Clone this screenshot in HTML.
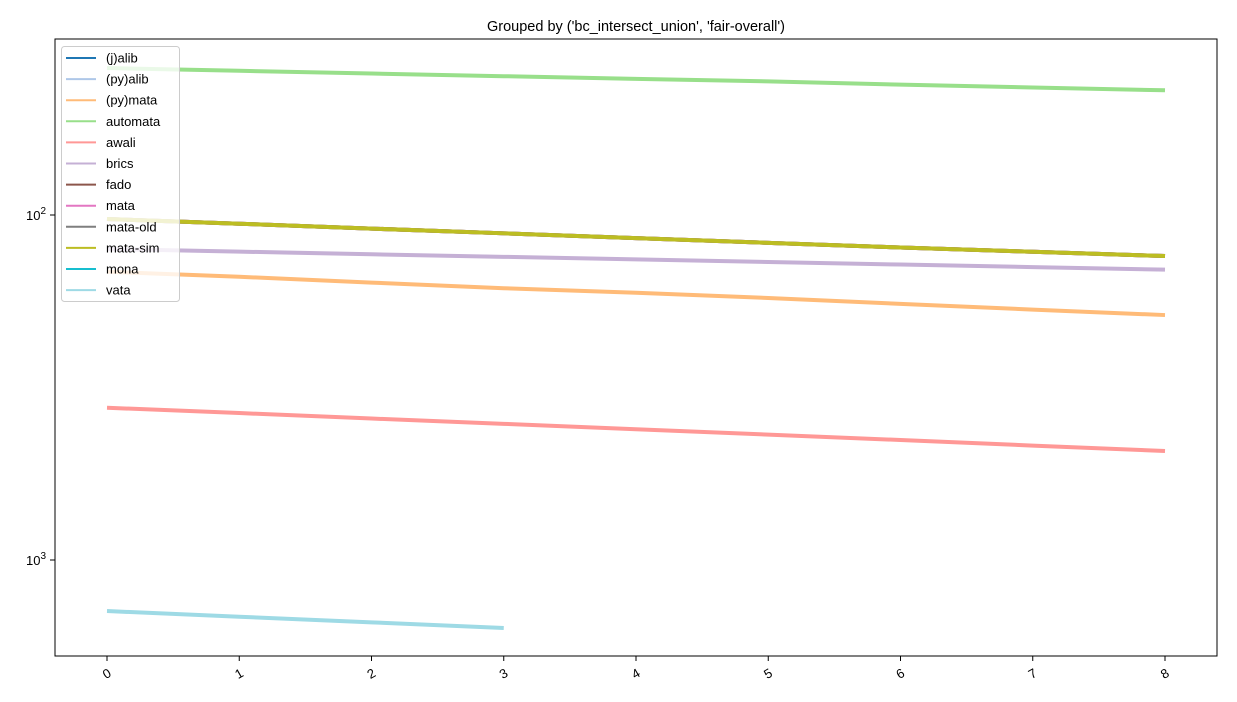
<!DOCTYPE html>
<html><head><meta charset="utf-8"><style>body{margin:0;background:#fff}svg{display:block;font-family:"Liberation Sans","DejaVu Sans",sans-serif}</style></head>
<body>
<svg id="chart" width="1237" height="702" viewBox="0 0 1237 702">
<rect width="1237" height="702" fill="#fff"/>
<text x="636" y="31" text-anchor="middle" font-size="14.5">Grouped by ('bc_intersect_union', 'fair-overall')</text>
<g id="plot"></g>
</svg>
<script>
const xTicks = [0,1,2,3,4,5,6,7,8];
const seriesNames = ["(j)alib","(py)alib","(py)mata","automata","awali","brics","fado","mata","mata-old","mata-sim","mona","vata"];
const seriesColors = ["#1f77b4","#aec7e8","#ffbb78","#98df8a","#ff9896","#c5b0d5","#8c564b","#e377c2","#7f7f7f","#bcbd22","#17becf","#9edae5"];
const automata = [37.5,38.2,38.9,39.6,40.3,41.0,41.9,42.7,43.5];
const pymata = [146,151,157,163,168,174,181,188,195];
const awali = [362,375,389,403,418,433,449,466,483];
const brics = [125.5,127.7,130,132.2,134.5,136.8,139.2,141.6,144];
const fado = [102.7,106,109.5,113,116.7,120.4,124.2,127.8,131.5];
const mata = [102.7,106,109.5,113,116.7,120.4,124.2,127.8,131.5];
const mataOld = [102.7,106,109.5,113,116.7,120.4,124.2,127.8,131.5];
const mataSim = [102.7,106,109.5,113,116.7,120.4,124.2,127.8,131.5];
const vata = [1406,1460,1516,1574];
const seriesData = {"(j)alib":[],"(py)alib":[],"(py)mata":pymata,"automata":automata,"awali":awali,"brics":brics,"fado":fado,"mata":mata,"mata-old":mataOld,"mata-sim":mataSim,"mona":[],"vata":vata};
const yTickVals = [100,1000];
const yTickExp = ["2","3"];

const NS="http://www.w3.org/2000/svg";
const L=55,R=1217,T=39,B=656;
const xs=v=>107+v*(1165-107)/8;
const ys=v=>215+(Math.log10(v)-2)*345;
const g=document.getElementById('plot');
function mk(t,a,p){const e=document.createElementNS(NS,t);for(const k in a)e.setAttribute(k,a[k]);(p||g).appendChild(e);return e;}
seriesNames.forEach((n,i)=>{
  const d=seriesData[n]; if(!d.length) return;
  const pts=d.map((v,j)=>xs(j)+","+ys(v)).join(" ");
  const e=mk('polyline',{points:pts,fill:"none",stroke:seriesColors[i],"stroke-width":4});
  
  
});
const f=mk('rect',{x:L,y:T,width:R-L,height:B-T,fill:"none",stroke:"#000","stroke-width":1});


xTicks.forEach(v=>{
  const x=xs(v);
  mk('line',{x1:x,y1:B,x2:x,y2:B+5,stroke:"#000"});
  const t=mk('text',{x:x,y:B+22,"text-anchor":"middle","font-size":13,transform:`rotate(-30 ${x} ${B+18})`});
  t.textContent=v;
  
  
});
yTickVals.forEach((v,i)=>{
  const y=ys(v);
  mk('line',{x1:L-5,y1:y,x2:L,y2:y,stroke:"#000"});
  const t=mk('text',{x:L-9,y:y+5,"text-anchor":"end","font-size":13});
  t.innerHTML='10<tspan dy="-6" font-size="10">'+yTickExp[i]+'</tspan>';
  
  
});
const lg=mk('g',{});


mk('rect',{x:61.5,y:46.5,width:118,height:255,rx:3,fill:"#fff","fill-opacity":0.8,stroke:"#ccc"},lg);
seriesNames.forEach((n,i)=>{
  const y=58+i*21.1;
  const en=mk('g',{},lg);
  
  
  mk('line',{x1:66,y1:y,x2:96,y2:y,stroke:seriesColors[i],"stroke-width":2},en);
  const t=mk('text',{x:106,y:y+4.5,"font-size":13},en);
  t.textContent=n;
});
</script>
</body></html>
